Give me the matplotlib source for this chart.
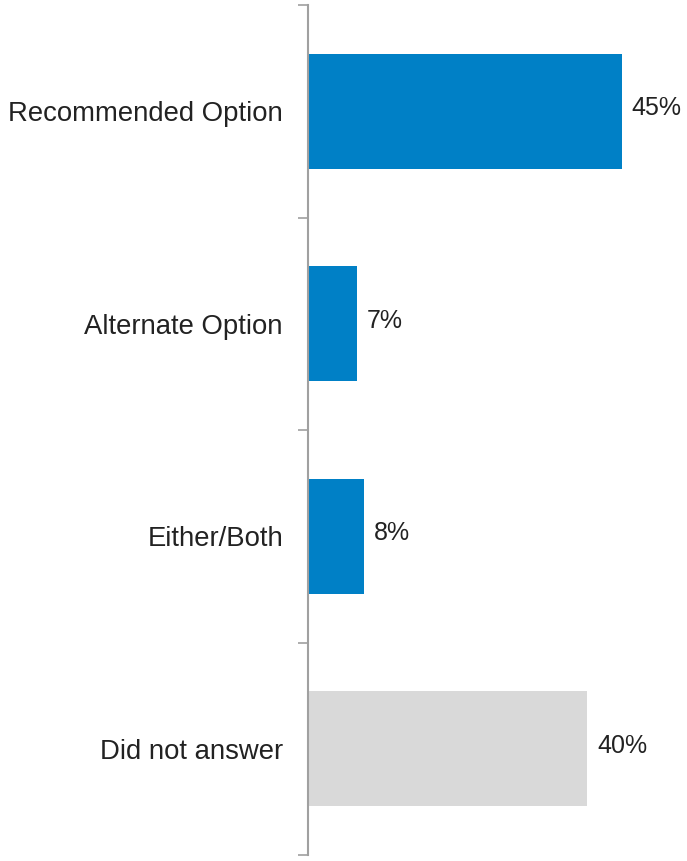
import matplotlib
matplotlib.use("Agg")
import matplotlib.pyplot as plt

categories = ["Recommended Option", "Alternate Option", "Either/Both", "Did not answer"]
values = [45, 7, 8, 40]
colors = ["#0080C6", "#0080C6", "#0080C6", "#D9D9D9"]

plt.rcParams["font.family"] = ["Liberation Sans", "DejaVu Sans"]

fig = plt.figure(figsize=(6.87, 8.61), dpi=100)
ax = fig.add_axes([308 / 687, 6 / 861, 1 - 308 / 687, 850 / 861])

pos = list(range(len(categories)))
ax.barh(pos, values, height=0.54, color=colors)

# value labels just right of each bar
for p, v in zip(pos, values):
    ax.annotate(f"{v}%", (v, p), xytext=(7, 2), textcoords="offset points",
                va="center", ha="left", fontsize=18, color="#222222")

ax.set_ylim(3.5, -0.5)
ax.set_xlim(0, 54.3)
ax.set_yticks(pos)
ax.set_yticklabels(categories, fontsize=19.8, color="#222222")
ax.set_yticks([-0.5, 0.5, 1.5, 2.5, 3.5], minor=True)
ax.tick_params(axis="y", which="major", length=0, pad=18)
ax.tick_params(axis="y", which="minor", length=7, width=1.2, color="#A0A0A0")
ax.set_xticks([])

for s in ["top", "right", "bottom"]:
    ax.spines[s].set_visible(False)
ax.spines["left"].set_color("#A0A0A0")
ax.spines["left"].set_linewidth(1.5)

fig.savefig("out.png", dpi=100)
